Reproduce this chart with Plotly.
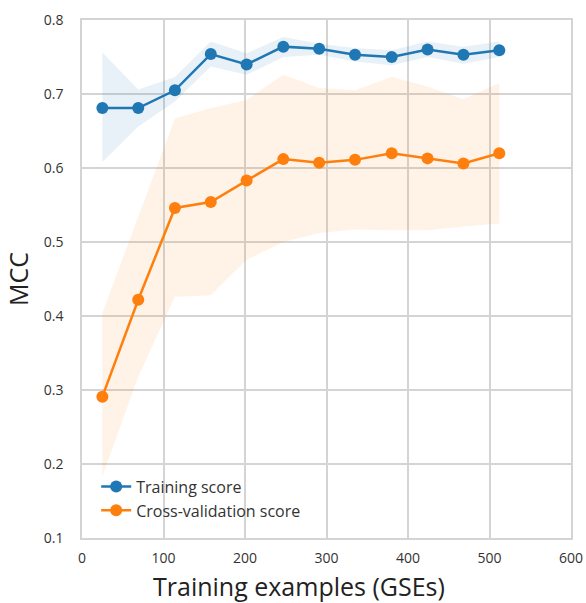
import plotly.graph_objects as go

# Learning curve: number of training GSEs vs. MCC
train_sizes = [25, 69, 114, 158, 202, 247, 291, 335, 380, 424, 468, 512]

train_mean = [0.681, 0.681, 0.705, 0.754, 0.740, 0.764, 0.761, 0.753, 0.750, 0.760, 0.753, 0.759]
train_upper = [0.756, 0.706, 0.723, 0.771, 0.755, 0.777, 0.768, 0.762, 0.759, 0.771, 0.764, 0.771]
train_lower = [0.608, 0.656, 0.690, 0.737, 0.726, 0.750, 0.753, 0.744, 0.739, 0.750, 0.741, 0.750]

cv_mean = [0.291, 0.422, 0.546, 0.554, 0.583, 0.612, 0.607, 0.611, 0.620, 0.613, 0.606, 0.620]
cv_upper = [0.404, 0.535, 0.667, 0.681, 0.692, 0.726, 0.708, 0.705, 0.723, 0.710, 0.693, 0.715]
cv_lower = [0.183, 0.318, 0.426, 0.428, 0.476, 0.500, 0.512, 0.517, 0.516, 0.516, 0.521, 0.525]

x_ticks = [0, 100, 200, 300, 400, 500, 600]
y_ticks = [0.1, 0.2, 0.3, 0.4, 0.5, 0.6, 0.7, 0.8]

BLUE = "#1f77b4"
ORANGE = "#ff7f0e"
FONT = "Open Sans, Noto Sans, sans-serif"

fig = go.Figure()


def add_band(lower, upper, fill):
    fig.add_trace(go.Scatter(x=train_sizes, y=upper, mode="lines",
                             line=dict(width=0), showlegend=False, hoverinfo="skip"))
    fig.add_trace(go.Scatter(x=train_sizes, y=lower, mode="lines",
                             line=dict(width=0), fill="tonexty", fillcolor=fill,
                             showlegend=False, hoverinfo="skip"))


add_band(train_lower, train_upper, "rgba(31,119,180,0.10)")
add_band(cv_lower, cv_upper, "rgba(255,127,14,0.10)")

fig.add_trace(go.Scatter(x=train_sizes, y=train_mean, mode="lines+markers",
                         name="Training score",
                         line=dict(color=BLUE, width=2.5),
                         marker=dict(color=BLUE, size=12)))
fig.add_trace(go.Scatter(x=train_sizes, y=cv_mean, mode="lines+markers",
                         name="Cross-validation score",
                         line=dict(color=ORANGE, width=2.5),
                         marker=dict(color=ORANGE, size=12)))

axis_common = dict(showgrid=True, gridcolor="#d4d4d4", gridwidth=1.5,
                   showline=True, linecolor="#d4d4d4", linewidth=1.5, mirror=True,
                   zeroline=False, ticks="", automargin=False,
                   tickfont=dict(size=14, color="#333333"))

fig.update_xaxes(range=[0, 600], tickvals=x_ticks, ticklabelstandoff=6, **axis_common)
fig.update_yaxes(range=[0.1, 0.8], tickvals=y_ticks, tickformat=".1f", ticklabelstandoff=14,
                 title=dict(text="MCC", font=dict(size=25, color="#222222"), standoff=8),
                 **axis_common)

# x-axis label, centred on the figure width rather than the plot area
fig.add_annotation(text="Training examples (GSEs)", xref="paper", yref="paper",
                   x=0.4438, y=-0.0917, xanchor="center", yanchor="middle",
                   showarrow=False, font=dict(size=25, color="#222222"))

fig.update_layout(
    width=586, height=603,
    margin=dict(l=82, r=15, t=20, b=65),
    plot_bgcolor="white", paper_bgcolor="white",
    font=dict(family=FONT, color="#333333"),
    legend=dict(x=0.029, y=0.02, xanchor="left", yanchor="bottom", traceorder="normal",
                bgcolor="rgba(255,255,255,0)",
                font=dict(size=16, color="#333333"), tracegroupgap=0),
)

fig.write_html("out.html")
